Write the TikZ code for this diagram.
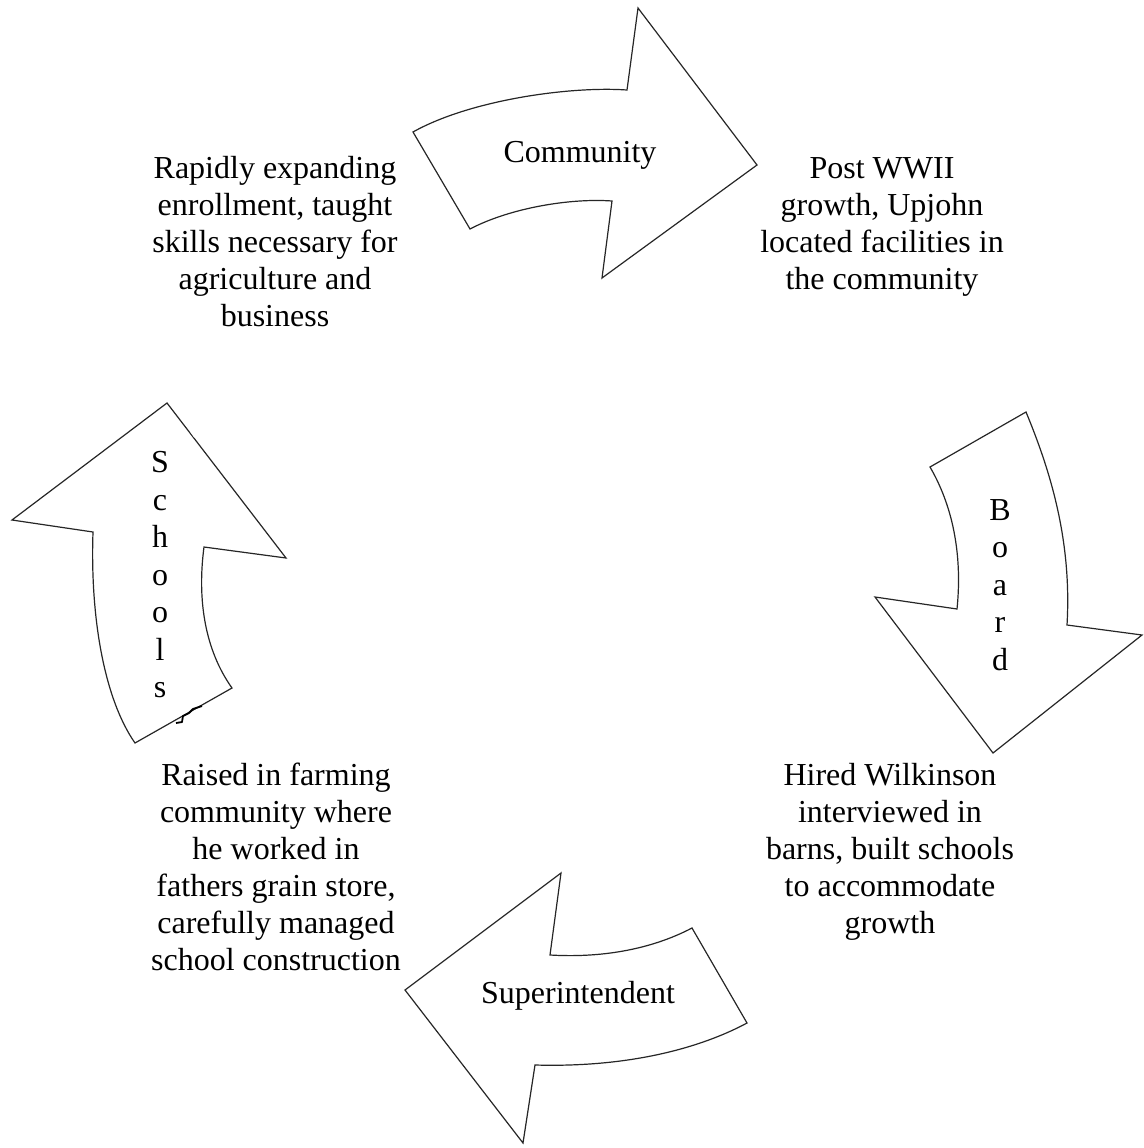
\documentclass[tikz,border=0pt]{standalone}
\usepackage{fontspec}
\setmainfont{Liberation Serif}
\begin{document}
\begin{tikzpicture}[x=1pt,y=-1pt,
  shape outline/.style={draw=black!85,line width=1.2pt,fill=white,line join=miter},
  caption/.style={align=center,font=\fontsize{32}{37}\selectfont,inner sep=0pt},
  vlabel/.style={align=center,font=\fontsize{32}{37.5}\selectfont,inner sep=0pt}]
\useasboundingbox (0,0) rectangle (1143,1148);

% Community arrow (top, pointing right)
\draw[shape outline] (413,132) .. controls (470,100) and (570,86) .. (627,90)
  -- (638,8) -- (757,165) -- (602,278) -- (612,201)
  .. controls (570,198) and (510,208) .. (470,229) -- cycle;
\node[caption] (community) at (580,155) {Community};

% Board arrow (right, pointing down)
\draw[shape outline] (930,467) -- (1026,412)
  .. controls (1050,470) and (1072,540) .. (1067,625)
  -- (1142,635) -- (993,753) -- (875,597) -- (957,609)
  .. controls (962,560) and (955,510) .. (930,467) -- cycle;
\node[vlabel] (board) at (1000,585) {B\\o\\a\\r\\d};

% Superintendent arrow (bottom, pointing left)
\draw[shape outline] (405,990) -- (561,873) -- (550,955)
  .. controls (600,958) and (650,950) .. (692,928)
  -- (747,1023)
  .. controls (710,1043) and (640,1068) .. (535,1065)
  -- (523,1143) -- cycle;
\node[caption] (superintendent) at (578,996) {Superintendent};

% Schools arrow (left, pointing up)
\draw[shape outline] (167,403) -- (286,558) -- (204,547)
  .. controls (197,600) and (205,650) .. (232,688)
  -- (135,743)
  .. controls (105,700) and (90,620) .. (93,532)
  -- (12,520) -- cycle;
\draw[white,line width=2pt] (123,431) -- (127,428);
\draw[white,line width=2pt] (191,431) -- (195,437);
\draw[black,line width=1.8pt,line join=round] (176,723) -- (182,722) -- (183,716)
  -- (189,713) -- (193,709) -- (202,706);
\node[vlabel] (schools) at (160,575) {S\\c\\h\\o\\o\\l\\s};

% Descriptions around the cycle
\node[caption] (growth) at (275,242) {Rapidly expanding\\enrollment, taught\\skills necessary for\\agriculture and\\business};
\node[caption] (upjohn) at (882,227) {Post WWII\\growth, Upjohn\\located facilities in\\the community};
\node[caption] (hired) at (890,852) {Hired Wilkinson\\interviewed in\\barns, built schools\\to accommodate\\growth};
\node[caption] (raised) at (276,867) {Raised in farming\\community where\\he worked in\\fathers grain store,\\carefully managed\\school construction};
\end{tikzpicture}
\end{document}
